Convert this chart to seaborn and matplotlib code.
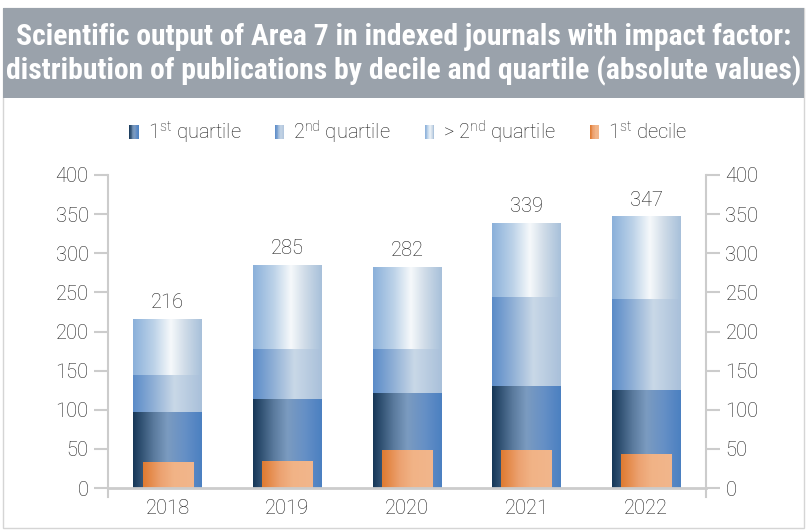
import numpy as np
import pandas as pd
import matplotlib
matplotlib.use("Agg")
import matplotlib.pyplot as plt
import seaborn as sns
from matplotlib.colors import LinearSegmentedColormap
from matplotlib.legend_handler import HandlerBase
from matplotlib.patches import Rectangle

# ---------------- data ----------------
years = ["2018", "2019", "2020", "2021", "2022"]
q1 = [97, 114, 122, 130, 125]
q2 = [47, 64, 56, 114, 116]
q_gt2 = [72, 107, 104, 95, 106]
decile1 = [33, 35, 48, 48, 44]
totals = [216, 285, 282, 339, 347]
legend_labels = ["1$^{\\mathregular{st}}$ quartile", "2$^{\\mathregular{nd}}$ quartile",
                 "> 2$^{\\mathregular{nd}}$ quartile", "1$^{\\mathregular{st}}$ decile"]
title_lines = ["Scientific output of Area 7 in indexed journals with impact factor:",
               "distribution of publications by decile and quartile (absolute values)"]
y_ticks = [0, 50, 100, 150, 200, 250, 300, 350, 400]

df = pd.DataFrame({"year": years, "q1": q1, "q2": q2, "gt": q_gt2, "dec": decile1})
df["cum2"] = df["q1"] + df["q2"]
df["cum3"] = df["cum2"] + df["gt"]

# ---------------- style ----------------
sns.set_theme(style="white")
plt.rcParams["font.family"] = ["Roboto", "DejaVu Sans"]
plt.rcParams["font.weight"] = "light"
plt.rcParams["mathtext.fontset"] = "custom"
plt.rcParams["mathtext.rm"] = "Roboto:light"
plt.rcParams["mathtext.it"] = "Roboto:light"
plt.rcParams["mathtext.bf"] = "Roboto:bold"
text_col = "#1e1e1e"
axis_col = "#cccccc"
fs = 14.5

def mk(stops, name):
    return LinearSegmentedColormap.from_list(name, stops)

cm_q1 = mk([(0, "#163757"), (0.3, "#5a7a9d"), (0.5, "#7b9bc0"), (0.75, "#6690c6"), (1, "#4b80c1")], "q1")
cm_q2 = mk([(0, "#5a8bc8"), (0.3, "#90b0d6"), (0.6, "#c9d8e7"), (1, "#a9c0da")], "q2")
cm_gt = mk([(0, "#8ab0da"), (0.3, "#bcd2e8"), (0.55, "#f6f9fb"), (0.75, "#d0dce8"), (1, "#a7c0da")], "gt")
cm_dec = mk([(0, "#df7a30"), (0.35, "#eca271"), (0.6, "#f1b386"), (1, "#f2b68c")], "dec")

fig = plt.figure(figsize=(8.07, 5.30), dpi=100)
ax = fig.add_axes([108 / 807, 1 - 488 / 530, 598 / 807, 313 / 530])

bar_w = 0.575
layers = [("cum3", cm_gt, bar_w), ("cum2", cm_q2, bar_w), ("q1", cm_q1, bar_w), ("dec", cm_dec, 0.42)]
grad = np.linspace(0, 1, 256).reshape(1, -1)
for col, cmap, w in layers:
    n0 = len(ax.patches)
    sns.barplot(data=df, x="year", y=col, color=cmap(0.5), width=w, ax=ax,
                errorbar=None, saturation=1, linewidth=0)
    for p in ax.patches[n0:]:
        x0, y0, pw, ph = p.get_x(), p.get_y(), p.get_width(), p.get_height()
        im = ax.imshow(grad, cmap=cmap, aspect="auto", extent=(x0, x0 + pw, y0, y0 + ph),
                       zorder=p.get_zorder() + 0.01 * len(ax.images), interpolation="bicubic")
        im.set_clip_path(p)

ax.bar_label(ax.containers[0], labels=[str(t) for t in totals], padding=5,
             fontsize=fs, color=text_col)

ax.set_xlim(-0.5, 4.5)
ax.set_ylim(0, 400)
ax.set_yticks(y_ticks)
ax.set_xlabel("")
ax.set_ylabel("")
ax.set_xticks(range(len(years)))
ax.set_xticklabels(years)
ax.set_xticks(np.arange(0.5, 4, 1), minor=True)
ax.tick_params(axis="x", which="major", length=0, pad=8, labelsize=fs, labelcolor=text_col)
ax.tick_params(axis="x", which="minor", length=9, width=1.5, color=axis_col, direction="out")
ax.tick_params(axis="y", which="major", length=10, width=1.5, color=axis_col, labelsize=fs,
               labelcolor=text_col, left=True, right=True, labelleft=True, labelright=True, pad=4)
ax.spines["top"].set_visible(False)
for s in ["left", "right"]:
    ax.spines[s].set_color(axis_col)
    ax.spines[s].set_linewidth(1.5)
    ax.spines[s].set_bounds(-12, 400)
ax.spines["bottom"].set_color(axis_col)
ax.spines["bottom"].set_linewidth(2)
ax.spines["bottom"].set_zorder(10)
ax.grid(False)

# legend with gradient handles
class GradHandler(HandlerBase):
    def __init__(self, cmap):
        super().__init__()
        self.cmap = cmap

    def create_artists(self, legend, orig_handle, xdescent, ydescent, width, height, fontsize, trans):
        n = 12
        arts = []
        for i in range(n):
            arts.append(Rectangle((-xdescent + width * i / n, -ydescent), width / n * 1.08, height,
                                  facecolor=self.cmap((i + 0.5) / n), edgecolor="none", transform=trans))
        return arts

handles = [Rectangle((0, 0), 1, 1) for _ in range(4)]
cmaps = [cm_q1, cm_q2, cm_gt, cm_dec]
fig.legend(handles, legend_labels, loc="center", bbox_to_anchor=(0.506, 1 - 132 / 530), ncol=4,
           frameon=False, fontsize=fs, labelcolor=text_col, handlelength=0.45, handleheight=0.7,
           handletextpad=0.45, columnspacing=1.7,
           handler_map={h: GradHandler(c) for h, c in zip(handles, cmaps)})

# frame and title banner
fig.patches.append(Rectangle((3 / 807, 2 / 530), 801 / 807, 520 / 530, transform=fig.transFigure,
                             facecolor="none", edgecolor="#d5d5d5", linewidth=1, zorder=0))
fig.patches.append(Rectangle((3 / 807, 1 - 98 / 530), 801 / 807, 90 / 530, transform=fig.transFigure,
                             facecolor="#9aa2ab", edgecolor="none", zorder=1))
title_fam = ["Liberation Sans Narrow", "Roboto Condensed", "Roboto", "DejaVu Sans"]
fig.text(0.5, 1 - 37 / 530, title_lines[0], ha="center", va="center", color="white",
         fontsize=21.3, fontweight="bold", family=title_fam)
fig.text(0.5, 1 - 71 / 530, title_lines[1], ha="center", va="center", color="white",
         fontsize=21.3, fontweight="bold", family=title_fam)

fig.savefig("out.png", dpi=100)
